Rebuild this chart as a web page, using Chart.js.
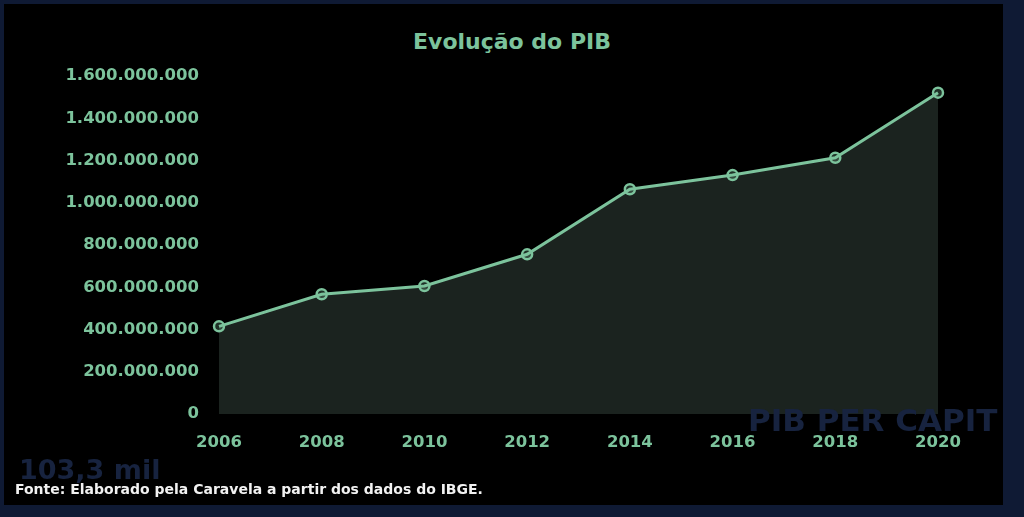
<!DOCTYPE html>
<html>
<head>
<meta charset="utf-8">
<script src="https://cdn.jsdelivr.net/npm/chart.js@4.4.0/dist/chart.umd.min.js"></script>
<style>
  html, body { margin: 0; padding: 0; width: 1024px; height: 517px; overflow: hidden; background: #0f1a34; }
  #panel { position: absolute; left: 4px; top: 4px; width: 999px; height: 501px; background: #000; }
  #wrap { position: absolute; left: 0; top: 0; width: 1024px; height: 517px; }
  #title { position: absolute; left: 0; top: 29px; width: 1024px; text-align: center; font-family: "DejaVu Sans", sans-serif; font-weight: bold; font-size: 22px; line-height: 26px; color: #7cc39c; white-space: nowrap; }
  .ghost { position: absolute; font-family: "DejaVu Sans", sans-serif; font-weight: bold; color: #17233f; white-space: nowrap; line-height: 1; }
  #ghost1 { left: 19px; top: 456px; font-size: 27px; }
  #ghost2 { left: 748px; top: 405px; font-size: 31px; }
  #footer { position: absolute; left: 15px; top: 482px; font-family: "DejaVu Sans", sans-serif; font-weight: bold; font-size: 14px; color: #f2f2f2; white-space: nowrap; line-height: 1; }
</style>
</head>
<body>
<div id="panel"></div>
<div id="title">Evolução do PIB</div>
<div id="wrap"><canvas id="c" width="1024" height="517"></canvas></div>
<div class="ghost" id="ghost2">PIB PER CAPIT</div>
<div class="ghost" id="ghost1">103,3 mil</div>
<div id="footer">Fonte: Elaborado pela Caravela a partir dos dados do IBGE.</div>
<script>
const years = ['2006', '2008', '2010', '2012', '2014', '2016', '2018', '2020'];
const pib = [415000000, 567000000, 606000000, 756000000, 1064000000, 1131000000, 1213000000, 1521000000];
const yMax = 1600000000;
const yStep = 200000000;

const green = '#7cc39c';
function fmt(v) {
  return String(Math.round(v)).replace(/\B(?=(\d{3})+(?!\d))/g, '.');
}

new Chart(document.getElementById('c'), {
  type: 'line',
  data: {
    labels: years,
    datasets: [{
      data: pib,
      borderColor: green,
      borderWidth: 3,
      backgroundColor: '#1b231f',
      fill: 'origin',
      tension: 0,
      pointRadius: 5,
      pointBorderWidth: 2.5,
      pointBorderColor: green,
      pointBackgroundColor: 'rgba(124,195,156,0.25)'
    }]
  },
  options: {
    responsive: false,
    animation: false,
    layout: { padding: { left: 0, right: 86, top: 76, bottom: 0 } },
    plugins: {
      legend: { display: false },
      tooltip: { enabled: false },
      title: { display: false }
    },
    scales: {
      x: {
        offset: false,
        grid: { display: false, drawTicks: false },
        border: { display: false },
        ticks: {
          color: green,
          font: { family: 'DejaVu Sans', weight: 'bold', size: 16.5 },
          padding: 19,
          maxRotation: 0
        },
        afterFit: function (s) { s.height = 103; }
      },
      y: {
        min: 0,
        max: yMax,
        grid: { display: false, drawTicks: false },
        border: { display: false },
        ticks: {
          stepSize: yStep,
          color: green,
          font: { family: 'DejaVu Sans', weight: 'bold', size: 16.5 },
          padding: 20,
          callback: function (v) { return fmt(v); }
        },
        afterFit: function (s) { s.width = 219; }
      }
    }
  }
});
</script>
</body>
</html>
